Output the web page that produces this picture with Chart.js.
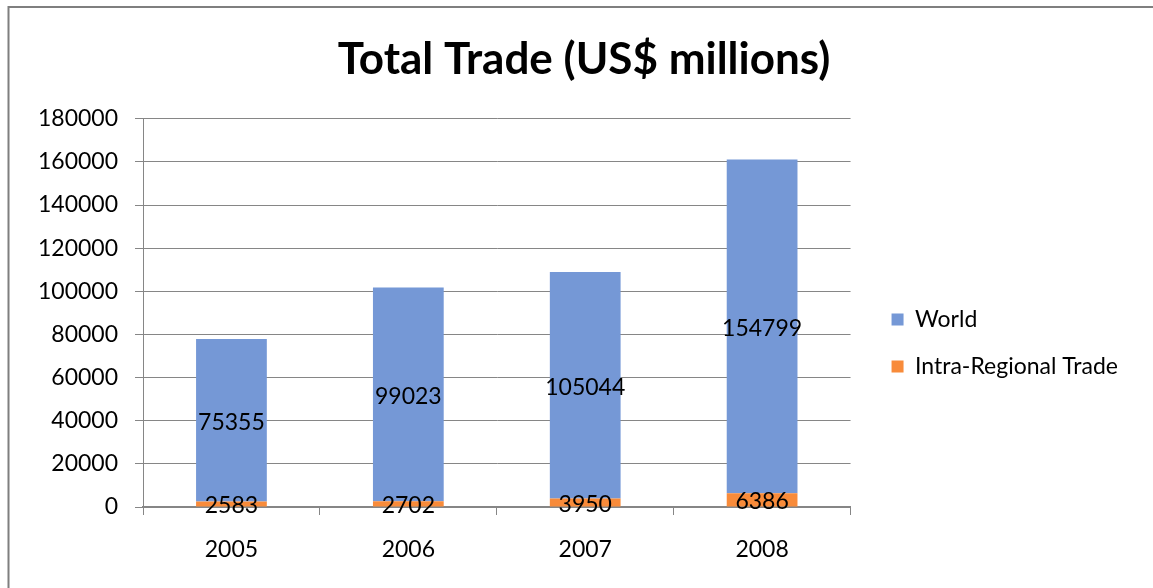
<!DOCTYPE html>
<html>
<head>
<meta charset="utf-8">
<script src="https://cdn.jsdelivr.net/npm/chart.js@4.4.0/dist/chart.umd.min.js"></script>
<style>
  html, body { margin: 0; padding: 0; background: #fff; }
  #wrap { position: relative; width: 1153px; height: 588px; }
</style>
</head>
<body>
<div id="wrap"><canvas id="c" width="1153" height="588"></canvas></div>
<script>
const years = ['2005', '2006', '2007', '2008'];
const intraRegional = [2583, 2702, 3950, 6386];
const world = [75355, 99023, 105044, 154799];
const yTicks = [0, 20000, 40000, 60000, 80000, 100000, 120000, 140000, 160000, 180000];

const FONT = 'Lato, "Open Sans", sans-serif';
const GRID = '#868686';

const frame = {
  id: 'frame',
  beforeDraw(chart) {
    const ctx = chart.ctx;
    ctx.save();
    ctx.fillStyle = '#fff';
    ctx.fillRect(0, 0, chart.width, chart.height);
    ctx.strokeStyle = '#7f7f7f';
    ctx.lineWidth = 2;
    ctx.beginPath();
    ctx.moveTo(8.5, chart.height + 5);
    ctx.lineTo(8.5, 7);
    ctx.lineTo(chart.width + 5, 7);
    ctx.stroke();
    ctx.restore();
  }
};

const valueLabels = {
  id: 'valueLabels',
  afterDatasetsDraw(chart) {
    const ctx = chart.ctx;
    ctx.save();
    ctx.font = '23px ' + FONT;
    ctx.fillStyle = '#000';
    ctx.textAlign = 'center';
    ctx.textBaseline = 'middle';
    chart.data.datasets.forEach((ds, di) => {
      const meta = chart.getDatasetMeta(di);
      meta.data.forEach((bar, i) => {
        const y = (bar.y + bar.base) / 2;
        ctx.fillText(String(ds.data[i]), bar.x, y + 2);
      });
    });
    ctx.restore();
  }
};

function draw() {
  new Chart(document.getElementById('c'), {
    type: 'bar',
    data: {
      labels: years,
      datasets: [
        { label: 'Intra-Regional Trade', data: intraRegional, backgroundColor: '#F88B3A', stack: 's' },
        { label: 'World', data: world, backgroundColor: '#7598D6', stack: 's' }
      ]
    },
    options: {
      responsive: false,
      animation: false,
      devicePixelRatio: 1,
      layout: { padding: { left: 40, right: 25, top: 0, bottom: 0 } },
      datasets: { bar: { categoryPercentage: 1.0, barPercentage: 0.4 } },
      plugins: {
        title: {
          display: true,
          text: 'Total Trade (US$ millions)',
          color: '#000',
          font: { family: FONT, size: 44, weight: 'bold' },
          padding: { top: 33, bottom: 33 }
        },
        legend: {
          position: 'right',
          reverse: true,
          maxWidth: 400,
          title: { display: true, text: ' ', font: { size: 10 }, padding: { top: 86, bottom: 0 } },
          labels: {
            color: '#000',
            font: { family: FONT, size: 23 },
            boxWidth: 12,
            boxHeight: 12,
            padding: 24
          }
        },
        tooltip: { enabled: false }
      },
      scales: {
        x: {
          stacked: true,
          grid: { display: true, drawOnChartArea: false, drawTicks: true, tickLength: 8, color: GRID, offset: true },
          border: { display: true, color: GRID, width: 2 },
          ticks: { color: '#000', font: { family: FONT, size: 23 }, padding: 21 },
          afterFit(s) { s.height = 81; }
        },
        y: {
          stacked: true,
          min: 0,
          max: 180000,
          afterBuildTicks(s) { s.ticks = yTicks.map(v => ({ value: v })); },
          grid: { color: GRID, tickLength: 8 },
          border: { display: true, color: GRID, width: 1 },
          ticks: { color: '#000', font: { family: FONT, size: 23 }, padding: 17, callback: v => String(v) },
          afterFit(s) { s.width = 103; }
        },
        pad: {
          position: 'right',
          display: true,
          grid: { display: false },
          border: { display: false },
          ticks: { display: false },
          afterFit(s) { s.width = 17; }
        }
      }
    },
    plugins: [frame, valueLabels]
  });
}

Promise.all([
  document.fonts.load('23px Lato'),
  document.fonts.load('bold 44px Lato')
]).then(draw, draw);
</script>
</body>
</html>
